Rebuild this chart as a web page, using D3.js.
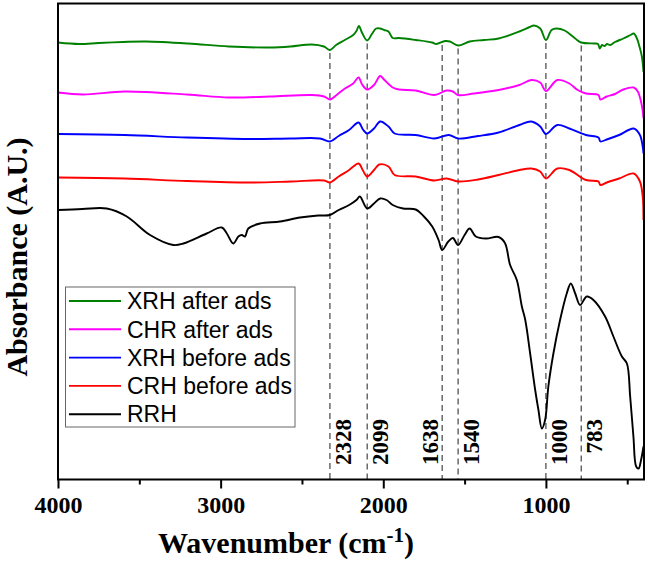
<!DOCTYPE html>
<html><head><meta charset="utf-8">
<script src="https://cdn.jsdelivr.net/npm/d3@7"></script>
<style>body{margin:0;background:#fff}</style>
</head><body>
<svg id="chart" width="648" height="569"></svg>
<script>
// ---- data (wavenumber cm^-1, absorbance a.u. with vertical offsets as plotted) ----
const seriesNames = ["XRH after ads", "CHR after ads", "XRH before ads", "CRH before ads", "RRH"];
const seriesColors = ["#008000", "#ff00ff", "#0000ff", "#ff0000", "#000000"];

const xrhAfter = [[4000,437],[3870,435.5],[3750,436.5],[3600,437.5],[3460,438],[3200,436],[2950,433],[2700,432],[2570,433],[2440,435],[2365,433],[2328,429.5],[2290,434.5],[2236,439.5],[2185,444.5],[2165,448.5],[2150,453.5],[2130,446.5],[2099,439],[2070,445.5],[2044,451],[2020,451],[1995,449.5],[1968,448],[1942,441.5],[1904,441.5],[1800,439.5],[1700,437],[1674,435.5],[1620,438.5],[1590,438],[1540,434],[1469,438],[1380,439.5],[1291,441],[1163,448],[1100,452.5],[1073,454],[1035,451],[1000,439.5],[965,449.5],[935,451],[885,449],[820,441],[783,437],[700,436],[680,435.5],[668,431],[655,434.5],[640,433.5],[625,435.5],[605,434.5],[575,437.5],[524,441],[480,444.5],[460,446],[440,441],[425,433],[410,423],[400,407.5]];
const chrAfter = [[4000,387],[3846,385],[3590,388],[3207,385],[2951,382],[2696,383],[2440,384.5],[2364,383],[2328,380],[2287,384.5],[2236,391],[2185,396],[2152,402],[2130,395],[2099,390],[2057,394.5],[2019,403.5],[1993,399.5],[1942,392],[1904,390],[1801,389],[1686,384.5],[1610,389],[1572,388],[1540,384.5],[1444,386],[1291,389.5],[1163,394.5],[1090,399.5],[1035,397],[1000,388.5],[930,399.5],[856,396],[805,389.5],[754,386],[677,384.5],[665,380],[626,383],[575,385.5],[524,390],[460,392],[435,388],[409,373],[400,361]];
const xrhBefore = [[4000,345.5],[3590,344.5],[3207,342],[2823,340.5],[2568,341],[2390,341],[2328,338],[2274,343.5],[2210,349.5],[2152,357],[2125,350],[2099,346],[2057,351],[2019,358],[1968,353],[1930,346],[1801,344.5],[1686,341],[1597,344.5],[1540,341],[1418,343.5],[1291,347],[1163,354.5],[1090,358],[1035,353],[1000,345.5],[930,354.5],[856,351],[754,344.5],[677,342],[665,338],[626,340],[550,344.5],[460,351],[422,344.5],[405,333],[400,326]];
const crhBefore = [[4000,302],[3590,301],[3207,298.5],[2823,297],[2568,298],[2364,299],[2328,297],[2274,303],[2210,309.5],[2152,316],[2125,309],[2099,303],[2057,309.5],[2025,315],[1968,313],[1930,304.5],[1801,303],[1686,299],[1610,301],[1540,298],[1418,300],[1291,304.5],[1163,309.5],[1090,311],[1035,308],[1000,301],[930,311],[856,309.5],[754,299.5],[677,298],[665,294.5],[626,297],[550,301],[460,306],[422,298],[405,283],[400,259.5]];
const rrh = [[4000,269.5],[3850,270.5],[3700,271],[3577,263],[3434,244.5],[3291,234.5],[3229,236],[3086,246],[2993,252],[2962,246],[2922,236],[2891,243],[2870,244.5],[2850,243],[2830,251],[2758,256],[2635,258],[2512,262],[2400,264],[2328,264.5],[2274,269.5],[2210,274.5],[2165,279.5],[2144,283],[2099,271],[2057,276],[2019,281],[1980,279.5],[1942,274.5],[1878,271],[1801,270],[1750,263],[1699,253],[1660,239.5],[1638,229.5],[1600,238],[1572,241.5],[1540,234.5],[1500,244.5],[1469,251],[1431,243],[1368,241],[1291,242.5],[1252,236.5],[1220,214.5],[1179,199.5],[1148,173],[1127,159.5],[1097,126],[1066,89.5],[1046,69.5],[1025,51],[1005,59.5],[985,93],[954,126],[913,159.5],[872,186],[847,196],[820,186],[790,174.5],[749,183],[708,179.5],[636,163],[585,143],[533,123],[502,116],[482,83],[462,43],[445,13],[430,11],[415,19.5],[400,33]];

const seriesData = [xrhAfter, chrAfter, xrhBefore, crhBefore, rrh];
const peaks = [2328, 2099, 1638, 1540, 1000, 783];
const xTicks = [4000, 3000, 2000, 1000];
const xMinorTicks = [3500, 2500, 1500, 500];

// ---- drawing ----
const svg = d3.select("#chart");
const pL = 58, pR = 643.5, pT = 3.5, pB = 479.5;
const x = d3.scaleLinear().domain([4000, 400]).range([pL, pR]);
const y = d3.scaleLinear().domain([0, 476]).range([pB, pT]);

const serif = "'Liberation Serif','Times New Roman',serif";
const sans = "'Liberation Sans',Arial,sans-serif";

function valueAt(arr, w) {
  for (let i = 0; i < arr.length - 1; i++) {
    const [w0, v0] = arr[i], [w1, v1] = arr[i + 1];
    if (w <= w0 && w >= w1) return v0 + (v1 - v0) * (w0 - w) / (w0 - w1);
  }
  return arr[arr.length - 1][1];
}
// dashed peak lines, starting just under the top curve
svg.append("g").selectAll("line").data(peaks).join("line")
  .attr("x1", d => x(d)).attr("x2", d => x(d))
  .attr("y1", d => y(valueAt(xrhAfter, d)) + 3).attr("y2", pB)
  .attr("stroke", "#333").attr("stroke-width", 1.1).attr("stroke-dasharray", "6,4");

// peak labels
svg.append("g").selectAll("text").data(peaks).join("text")
  .attr("transform", d => `translate(${x(d) + (d === 1638 ? -4 : 21)},419) rotate(-90)`)
  .attr("text-anchor", "end")
  .attr("font-family", serif).attr("font-weight", "bold").attr("font-size", 23)
  .text(d => d);

// spectra
const line = d3.line().x(d => x(d[0])).y(d => y(d[1])).curve(d3.curveCatmullRom.alpha(0.5));
svg.append("g").selectAll("path").data(seriesData).join("path")
  .attr("d", d => line(d)).attr("fill", "none")
  .attr("stroke", (d, i) => seriesColors[i]).attr("stroke-width", 1.9)
  .attr("stroke-linejoin", "round");

// frame
svg.append("rect").attr("x", pL).attr("y", pT)
  .attr("width", pR - pL + 0.5).attr("height", pB - pT)
  .attr("fill", "none").attr("stroke", "#000").attr("stroke-width", 2);

// x axis
const ax = svg.append("g").attr("transform", `translate(0,${pB})`)
  .call(d3.axisBottom(x).tickValues(xTicks).tickSize(9).tickPadding(7).tickFormat(d3.format("d")));
ax.select(".domain").remove();
ax.selectAll("line").attr("stroke-width", 2);
ax.selectAll("text").attr("font-family", serif).attr("font-weight", "bold").attr("font-size", 24).attr("fill", "#000");
const axm = svg.append("g").attr("transform", `translate(0,${pB})`)
  .call(d3.axisBottom(x).tickValues(xMinorTicks).tickSize(5).tickFormat(""));
axm.select(".domain").remove();
axm.selectAll("line").attr("stroke-width", 2);

// axis titles
const xt = svg.append("text").attr("x", 158).attr("y", 553)
  .attr("font-family", serif).attr("font-weight", "bold").attr("font-size", 30);
xt.append("tspan").text("Wavenumber (cm");
xt.append("tspan").attr("font-size", 21).attr("dy", -11).text("-1");
xt.append("tspan").attr("dy", 11).text(")");

svg.append("text").attr("transform", "translate(27,257) rotate(-90)")
  .attr("text-anchor", "middle")
  .attr("font-family", serif).attr("font-weight", "bold").attr("font-size", 30)
  .text("Absorbance (A.U.)");

// legend
const lg = svg.append("g");
lg.append("rect").attr("x", 65.5).attr("y", 287).attr("width", 229.5).attr("height", 140)
  .attr("fill", "#fff").attr("stroke", "#666").attr("stroke-width", 1);
const legendRows = lg.selectAll("g.row").data(seriesNames).join("g").attr("class", "row")
  .attr("transform", (d, i) => `translate(0,${301 + i * 28.3})`);
legendRows.append("line").attr("x1", 69).attr("x2", 121)
  .attr("stroke", (d, i) => seriesColors[i]).attr("stroke-width", 1.9);
legendRows.append("text").attr("x", 127).attr("dy", "0.36em")
  .attr("font-family", sans).attr("font-size", 23).text(d => d);
</script>
</body></html>
